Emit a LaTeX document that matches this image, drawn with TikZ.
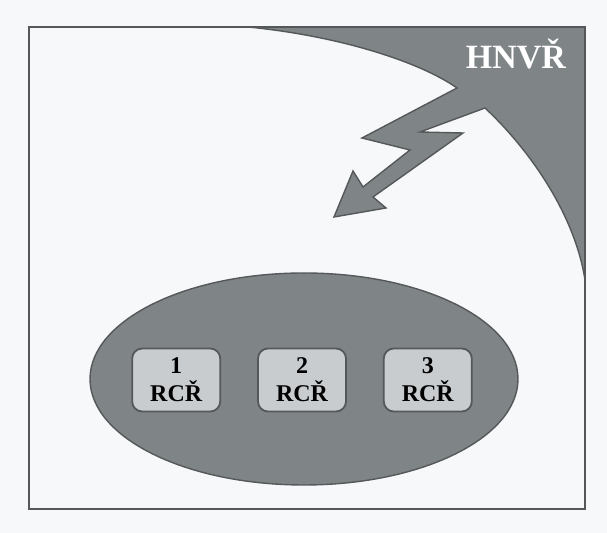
\documentclass[tikz,border=0pt]{standalone}
\usepackage{fontspec}
\setmainfont{Liberation Serif}
\usetikzlibrary{positioning, shapes.geometric}
\definecolor{paper}{HTML}{F7F8F9}
\definecolor{areagrey}{HTML}{7F8486}
\definecolor{boxgrey}{HTML}{C8CCCF}
\definecolor{edgegrey}{HTML}{555859}

\begin{document}
\begin{tikzpicture}[x=0.5pt, y=-0.5pt,
        rcr/.style={rectangle, draw=edgegrey, line width=0.9pt, rounded corners=5pt, fill=boxgrey, minimum width=44pt, minimum height=31.5pt, inner sep=0pt, align=center, font=\fontsize{12}{14}\selectfont\bfseries},
        region/.style={fill=areagrey, draw=edgegrey, line width=0.7pt},
        frame/.style={draw=edgegrey, line width=1pt},
        node distance=18pt
        ]
        \useasboundingbox (0,0) rectangle (607,533);
        \fill[paper] (0,0) rectangle (607,533);
        % corner area with the lightning bolt
        \draw[region] (585,27) -- (248,27) .. controls (340,36) and (420,62) .. (457,88)
            -- (362,138) -- (410,150) -- (363,187) -- (353,171) -- (334,217) -- (386,208)
            -- (373,197) -- (463,133) -- (420,132) -- (485,108)
            .. controls (530,150) and (575,215) .. (585,280) -- cycle;
        \node[text=white, anchor=base, inner sep=0pt, font=\fontsize{17}{20}\selectfont\bfseries] (hnvr) at (516,69) {HNVŘ};
        \draw[frame] (29,27) rectangle (585,509);
        \node[ellipse, region, minimum width=214pt, minimum height=106pt, inner sep=0pt] (grp) at (304,379) {};
        \node[rcr] (r2) at (302,380) {2\\RCŘ};
        \node[rcr, left=of r2]  (r1) {1\\RCŘ};
        \node[rcr, right=of r2] (r3) {3\\RCŘ};
    \end{tikzpicture}
\end{document}
